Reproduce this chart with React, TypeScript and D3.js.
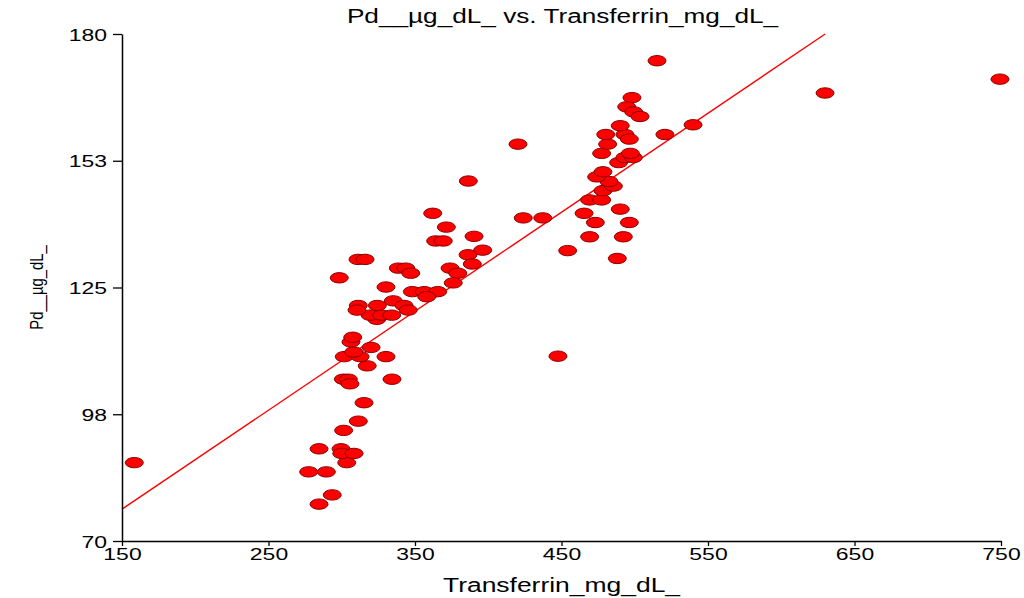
import React, { useEffect, useRef } from 'react';
import * as d3 from 'd3';

// Transferrin (mg/dL) vs Pd (µg/dL)
const transferrin = [
  158.4, 284.5, 293.5, 277.4, 289.5, 303.4, 299.5, 300.0, 308.4, 284.5,
  301.3, 311.3, 315.2, 301.1, 304.5, 305.6, 334.3, 317.4, 301.7, 312.5,
  330.2, 308.2, 320.0, 306.3, 307.5, 323.9, 319.3, 327.3, 334.1, 311.3,
  310.4, 324.3, 335.2, 342.5, 345.4, 330.2, 348.2, 356.3, 365.5, 358.0,
  298.3, 338.6, 343.7, 347.1, 311.1, 315.9, 373.9, 379.2, 376.1, 386.2,
  389.1, 396.2, 390.3, 364.1, 369.3, 371.4, 362.1, 386.4, 423.9, 437.2,
  420.3, 447.6, 454.2, 469.2, 492.2, 473.1, 496.3, 465.4, 490.1, 469.2,
  477.4, 478.3, 485.4, 482.4, 474.0, 478.3, 489.0, 493.3, 499.0, 497.0,
  477.4, 481.5, 480.2, 493.3, 496.3, 490.1, 520.6, 498.1, 494.5, 499.3,
  503.6, 515.2, 488.1, 539.8, 629.9, 749.3,
];
const pd = [
  87.0, 78.0, 80.0, 85.0, 85.0, 87.0, 90.0, 89.0, 89.0, 90.0,
  94.0, 96.0, 100.0, 105.1, 105.1, 104.1, 105.1, 108.0, 110.0, 110.0,
  110.0, 111.0, 112.0, 113.2, 114.2, 118.1, 119.0, 119.0, 119.0, 121.1,
  120.1, 121.1, 122.1, 121.1, 120.1, 125.1, 124.1, 124.1, 124.1, 123.0,
  127.1, 129.2, 129.2, 128.1, 131.1, 131.1, 129.2, 128.1, 126.0, 132.1,
  130.1, 133.1, 136.1, 135.1, 135.1, 138.1, 141.1, 148.1, 140.1, 140.1,
  156.1, 110.1, 133.0, 136.0, 136.0, 139.1, 139.1, 141.1, 142.0, 144.0,
  144.0, 146.0, 147.0, 148.0, 149.0, 150.1, 152.1, 153.2, 153.2, 154.1,
  154.1, 156.1, 158.2, 158.2, 157.2, 160.1, 158.2, 166.2, 164.2, 163.1,
  162.1, 174.2, 131.3, 160.3, 167.2, 170.2,
];

// least squares line shown on the chart
const fitIntercept = 44.68;
const fitSlope = 0.2148;

const xTicks = [150, 250, 350, 450, 550, 650, 750];
const yTicks = [70, 97.5, 125, 152.5, 180];

const title = 'Pd__µg_dL_ vs. Transferrin_mg_dL_';
const xLabel = 'Transferrin_mg_dL_';
const yLabel = 'Pd__µg_dL_';

export default function App() {
  const ref = useRef<SVGSVGElement>(null);

  useEffect(() => {
    const svg = d3.select(ref.current);
    svg.selectAll('*').remove();

    const width = 1024;
    const height = 598;
    const margin = { top: 34, right: 23, bottom: 57, left: 122 };
    const font = '"Liberation Sans", Arial, sans-serif';
    const stretch = 1.35;

    const x = d3.scaleLinear().domain([150, 750]).range([margin.left, width - margin.right]);
    const y = d3.scaleLinear().domain([70, 180]).range([height - margin.bottom, margin.top]);

    // fit line, clipped at the top of the plot
    const xEnd = (180 - fitIntercept) / fitSlope;
    svg.append('line')
      .attr('x1', x(150)).attr('y1', y(fitIntercept + fitSlope * 150))
      .attr('x2', x(xEnd)).attr('y2', y(180))
      .attr('stroke', '#ff0000')
      .attr('stroke-width', 1.4);

    const points = transferrin.map((t, i) => ({ t, p: pd[i] }));
    svg.append('g')
      .selectAll('ellipse')
      .data(points)
      .join('ellipse')
      .attr('cx', d => x(d.t))
      .attr('cy', d => y(d.p))
      .attr('rx', 9)
      .attr('ry', 5.2)
      .attr('fill', '#ff0000')
      .attr('stroke', '#8b0000')
      .attr('stroke-width', 1);

    // axes
    const xAxis = svg.append('g')
      .attr('transform', `translate(0,${height - margin.bottom})`)
      .call(d3.axisBottom(x).tickValues(xTicks).tickSize(5).tickSizeOuter(0).tickFormat(d3.format('d')));
    xAxis.select('.domain').attr('stroke', '#000').attr('stroke-width', 1.5);
    xAxis.selectAll('.tick line').attr('stroke', '#000').attr('stroke-width', 1.3);
    xAxis.selectAll('.tick text').remove();
    xAxis.selectAll('.tick').append('text')
      .attr('transform', `translate(0,19) scale(${stretch},1)`)
      .attr('text-anchor', 'middle')
      .attr('fill', '#000')
      .style('font-family', font)
      .style('font-size', '17px')
      .text(d => d3.format('d')(d as number));

    const yAxis = svg.append('g')
      .attr('transform', `translate(${margin.left},0)`)
      .call(d3.axisLeft(y).tickValues(yTicks).tickSize(9).tickSizeOuter(0));
    yAxis.select('.domain').attr('stroke', '#000').attr('stroke-width', 1.5);
    yAxis.selectAll('.tick line').attr('stroke', '#000').attr('stroke-width', 1.3);
    yAxis.selectAll('.tick text').remove();
    yAxis.selectAll('.tick').append('text')
      .attr('transform', `translate(-15,6) scale(${stretch},1)`)
      .attr('text-anchor', 'end')
      .attr('fill', '#000')
      .style('font-family', font)
      .style('font-size', '17px')
      .text(d => (d as number).toFixed(0));

    // titles
    const mid = (margin.left + width - margin.right) / 2;
    svg.append('text')
      .attr('transform', `translate(${mid + 1},23) scale(${stretch},1)`)
      .attr('text-anchor', 'middle')
      .style('font-family', font)
      .style('font-size', '19.4px')
      .text(title);

    svg.append('text')
      .attr('transform', `translate(${mid},592) scale(${stretch},1)`)
      .attr('text-anchor', 'middle')
      .style('font-family', font)
      .style('font-size', '19.6px')
      .text(xLabel);

    svg.append('text')
      .attr('transform', `translate(43,${(margin.top + height - margin.bottom) / 2}) rotate(-90) scale(0.78,1)`)
      .attr('text-anchor', 'middle')
      .style('font-family', font)
      .style('font-size', '19px')
      .text(yLabel);
  }, []);

  return (
    <div style={{ position: 'absolute', left: 0, top: 0, width: 1024, height: 598, background: '#fff' }}>
      <svg ref={ref} width={1024} height={598} style={{ display: 'block' }} />
    </div>
  );
}
